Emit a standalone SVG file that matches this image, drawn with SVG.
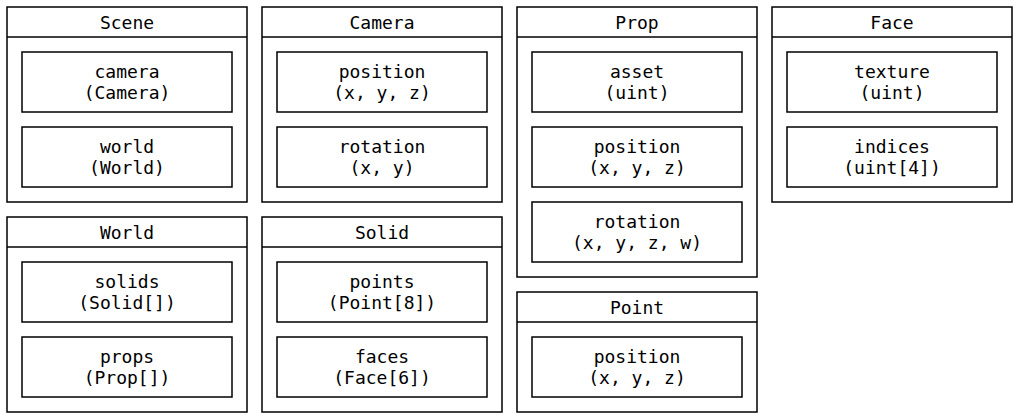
<svg xmlns="http://www.w3.org/2000/svg" width="1019" height="419" viewBox="0 0 1019 419">
<style>
rect{fill:#fff;stroke:#000;stroke-width:1.5}
line{stroke:#000;stroke-width:1.5}
text{font-family:"DejaVu Sans Mono","Liberation Mono",monospace;font-size:18px;fill:#000;text-anchor:middle}
</style>
<rect x="0" y="0" width="1019" height="419" style="stroke:none"/>
<g id="Scene">
<rect x="7" y="7" width="240" height="195"/><line x1="7" y1="37" x2="247" y2="37"/>
<text x="127" y="28.5">Scene</text>
<rect x="22" y="52" width="210" height="60"/><text x="127" y="78">camera</text><text x="127" y="99">(Camera)</text>
<rect x="22" y="127" width="210" height="60"/><text x="127" y="153">world</text><text x="127" y="174">(World)</text>
</g>
<g id="Camera">
<rect x="262" y="7" width="240" height="195"/><line x1="262" y1="37" x2="502" y2="37"/>
<text x="382" y="28.5">Camera</text>
<rect x="277" y="52" width="210" height="60"/><text x="382" y="78">position</text><text x="382" y="99">(x, y, z)</text>
<rect x="277" y="127" width="210" height="60"/><text x="382" y="153">rotation</text><text x="382" y="174">(x, y)</text>
</g>
<g id="Prop">
<rect x="517" y="7" width="240" height="270"/><line x1="517" y1="37" x2="757" y2="37"/>
<text x="637" y="28.5">Prop</text>
<rect x="532" y="52" width="210" height="60"/><text x="637" y="78">asset</text><text x="637" y="99">(uint)</text>
<rect x="532" y="127" width="210" height="60"/><text x="637" y="153">position</text><text x="637" y="174">(x, y, z)</text>
<rect x="532" y="202" width="210" height="60"/><text x="637" y="228">rotation</text><text x="637" y="249">(x, y, z, w)</text>
</g>
<g id="Face">
<rect x="772" y="7" width="240" height="195"/><line x1="772" y1="37" x2="1012" y2="37"/>
<text x="892" y="28.5">Face</text>
<rect x="787" y="52" width="210" height="60"/><text x="892" y="78">texture</text><text x="892" y="99">(uint)</text>
<rect x="787" y="127" width="210" height="60"/><text x="892" y="153">indices</text><text x="892" y="174">(uint[4])</text>
</g>
<g id="World">
<rect x="7" y="217" width="240" height="195"/><line x1="7" y1="247" x2="247" y2="247"/>
<text x="127" y="238.5">World</text>
<rect x="22" y="262" width="210" height="60"/><text x="127" y="288">solids</text><text x="127" y="309">(Solid[])</text>
<rect x="22" y="337" width="210" height="60"/><text x="127" y="363">props</text><text x="127" y="384">(Prop[])</text>
</g>
<g id="Solid">
<rect x="262" y="217" width="240" height="195"/><line x1="262" y1="247" x2="502" y2="247"/>
<text x="382" y="238.5">Solid</text>
<rect x="277" y="262" width="210" height="60"/><text x="382" y="288">points</text><text x="382" y="309">(Point[8])</text>
<rect x="277" y="337" width="210" height="60"/><text x="382" y="363">faces</text><text x="382" y="384">(Face[6])</text>
</g>
<g id="Point">
<rect x="517" y="292" width="240" height="120"/><line x1="517" y1="322" x2="757" y2="322"/>
<text x="637" y="313.5">Point</text>
<rect x="532" y="337" width="210" height="60"/><text x="637" y="363">position</text><text x="637" y="384">(x, y, z)</text>
</g>
<g id="connectors"></g>
</svg>
